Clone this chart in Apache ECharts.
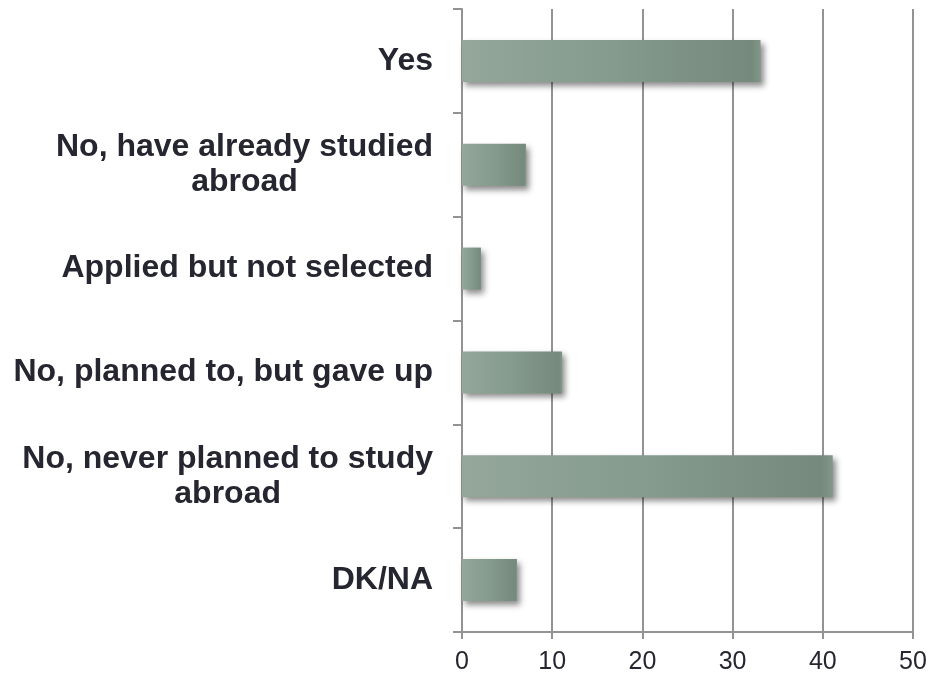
<!DOCTYPE html>
<html>
<head>
<meta charset="utf-8">
<script src="https://cdn.jsdelivr.net/npm/echarts@6/dist/echarts.min.js"></script>
<style>
html,body{margin:0;padding:0;background:#fff;}
#chart{width:931px;height:675px;}
</style>
</head>
<body>
<div id="chart"></div>
<script>
const categories = [
  "Yes",
  "No, have already studied\nabroad",
  "Applied but not selected",
  "No, planned to, but gave up",
  "No, never planned to study\nabroad",
  "DK/NA"
];
const values = [33.1, 7.1, 2.1, 11.1, 41.1, 6.1];
const xTicks = [0, 10, 20, 30, 40, 50];

const chart = echarts.init(document.getElementById('chart'), null, {renderer: 'canvas'});
const gridColor = '#939393';
const labelFont = 'Liberation Sans, Arial, sans-serif';
chart.setOption({
  animation: false,
  backgroundColor: '#ffffff',
  grid: {left: 462, right: 18, top: 9, bottom: 43, containLabel: false},
  xAxis: {
    type: 'value',
    min: xTicks[0],
    max: xTicks[xTicks.length - 1],
    interval: 10,
    axisLine: {show: true, lineStyle: {color: gridColor, width: 2}},
    axisTick: {show: true, length: 7, lineStyle: {color: gridColor, width: 2}},
    splitLine: {show: true, lineStyle: {color: gridColor, width: 2}},
    axisLabel: {
      color: '#262630', fontSize: 25, margin: 18,
      fontFamily: labelFont
    }
  },
  yAxis: {
    type: 'category',
    data: categories,
    inverse: true,
    axisLine: {show: true, lineStyle: {color: gridColor, width: 2}},
    axisTick: {show: true, length: 9, inside: false, alignWithLabel: false, lineStyle: {color: gridColor, width: 2}},
    axisLabel: {
      margin: 29,
      color: '#262630',
      fontSize: 32,
      fontWeight: 'bold',
      fontFamily: labelFont,
      lineHeight: 35,
      formatter: function (v) {
        return v.split('\n').map(function (l) { return '{c|' + l + '}'; }).join('\n');
      },
      rich: {
        c: {
          align: 'center',
          color: '#262630',
          fontSize: 32,
          fontWeight: 'bold',
          fontFamily: labelFont,
          lineHeight: 35
        }
      }
    }
  },
  series: [{
    type: 'bar',
    data: values,
    barWidth: 42,
    itemStyle: {
      color: new echarts.graphic.LinearGradient(0, 0, 1, 0, [
        {offset: 0, color: '#94a79a'},
        {offset: 0.5, color: '#849b8d'},
        {offset: 0.97, color: '#76897d'},
        {offset: 1, color: '#83968a'}
      ]),
      shadowColor: 'rgba(0,0,0,0.45)',
      shadowBlur: 6,
      shadowOffsetX: 3,
      shadowOffsetY: 4
    }
  }]
});
</script>
</body>
</html>
